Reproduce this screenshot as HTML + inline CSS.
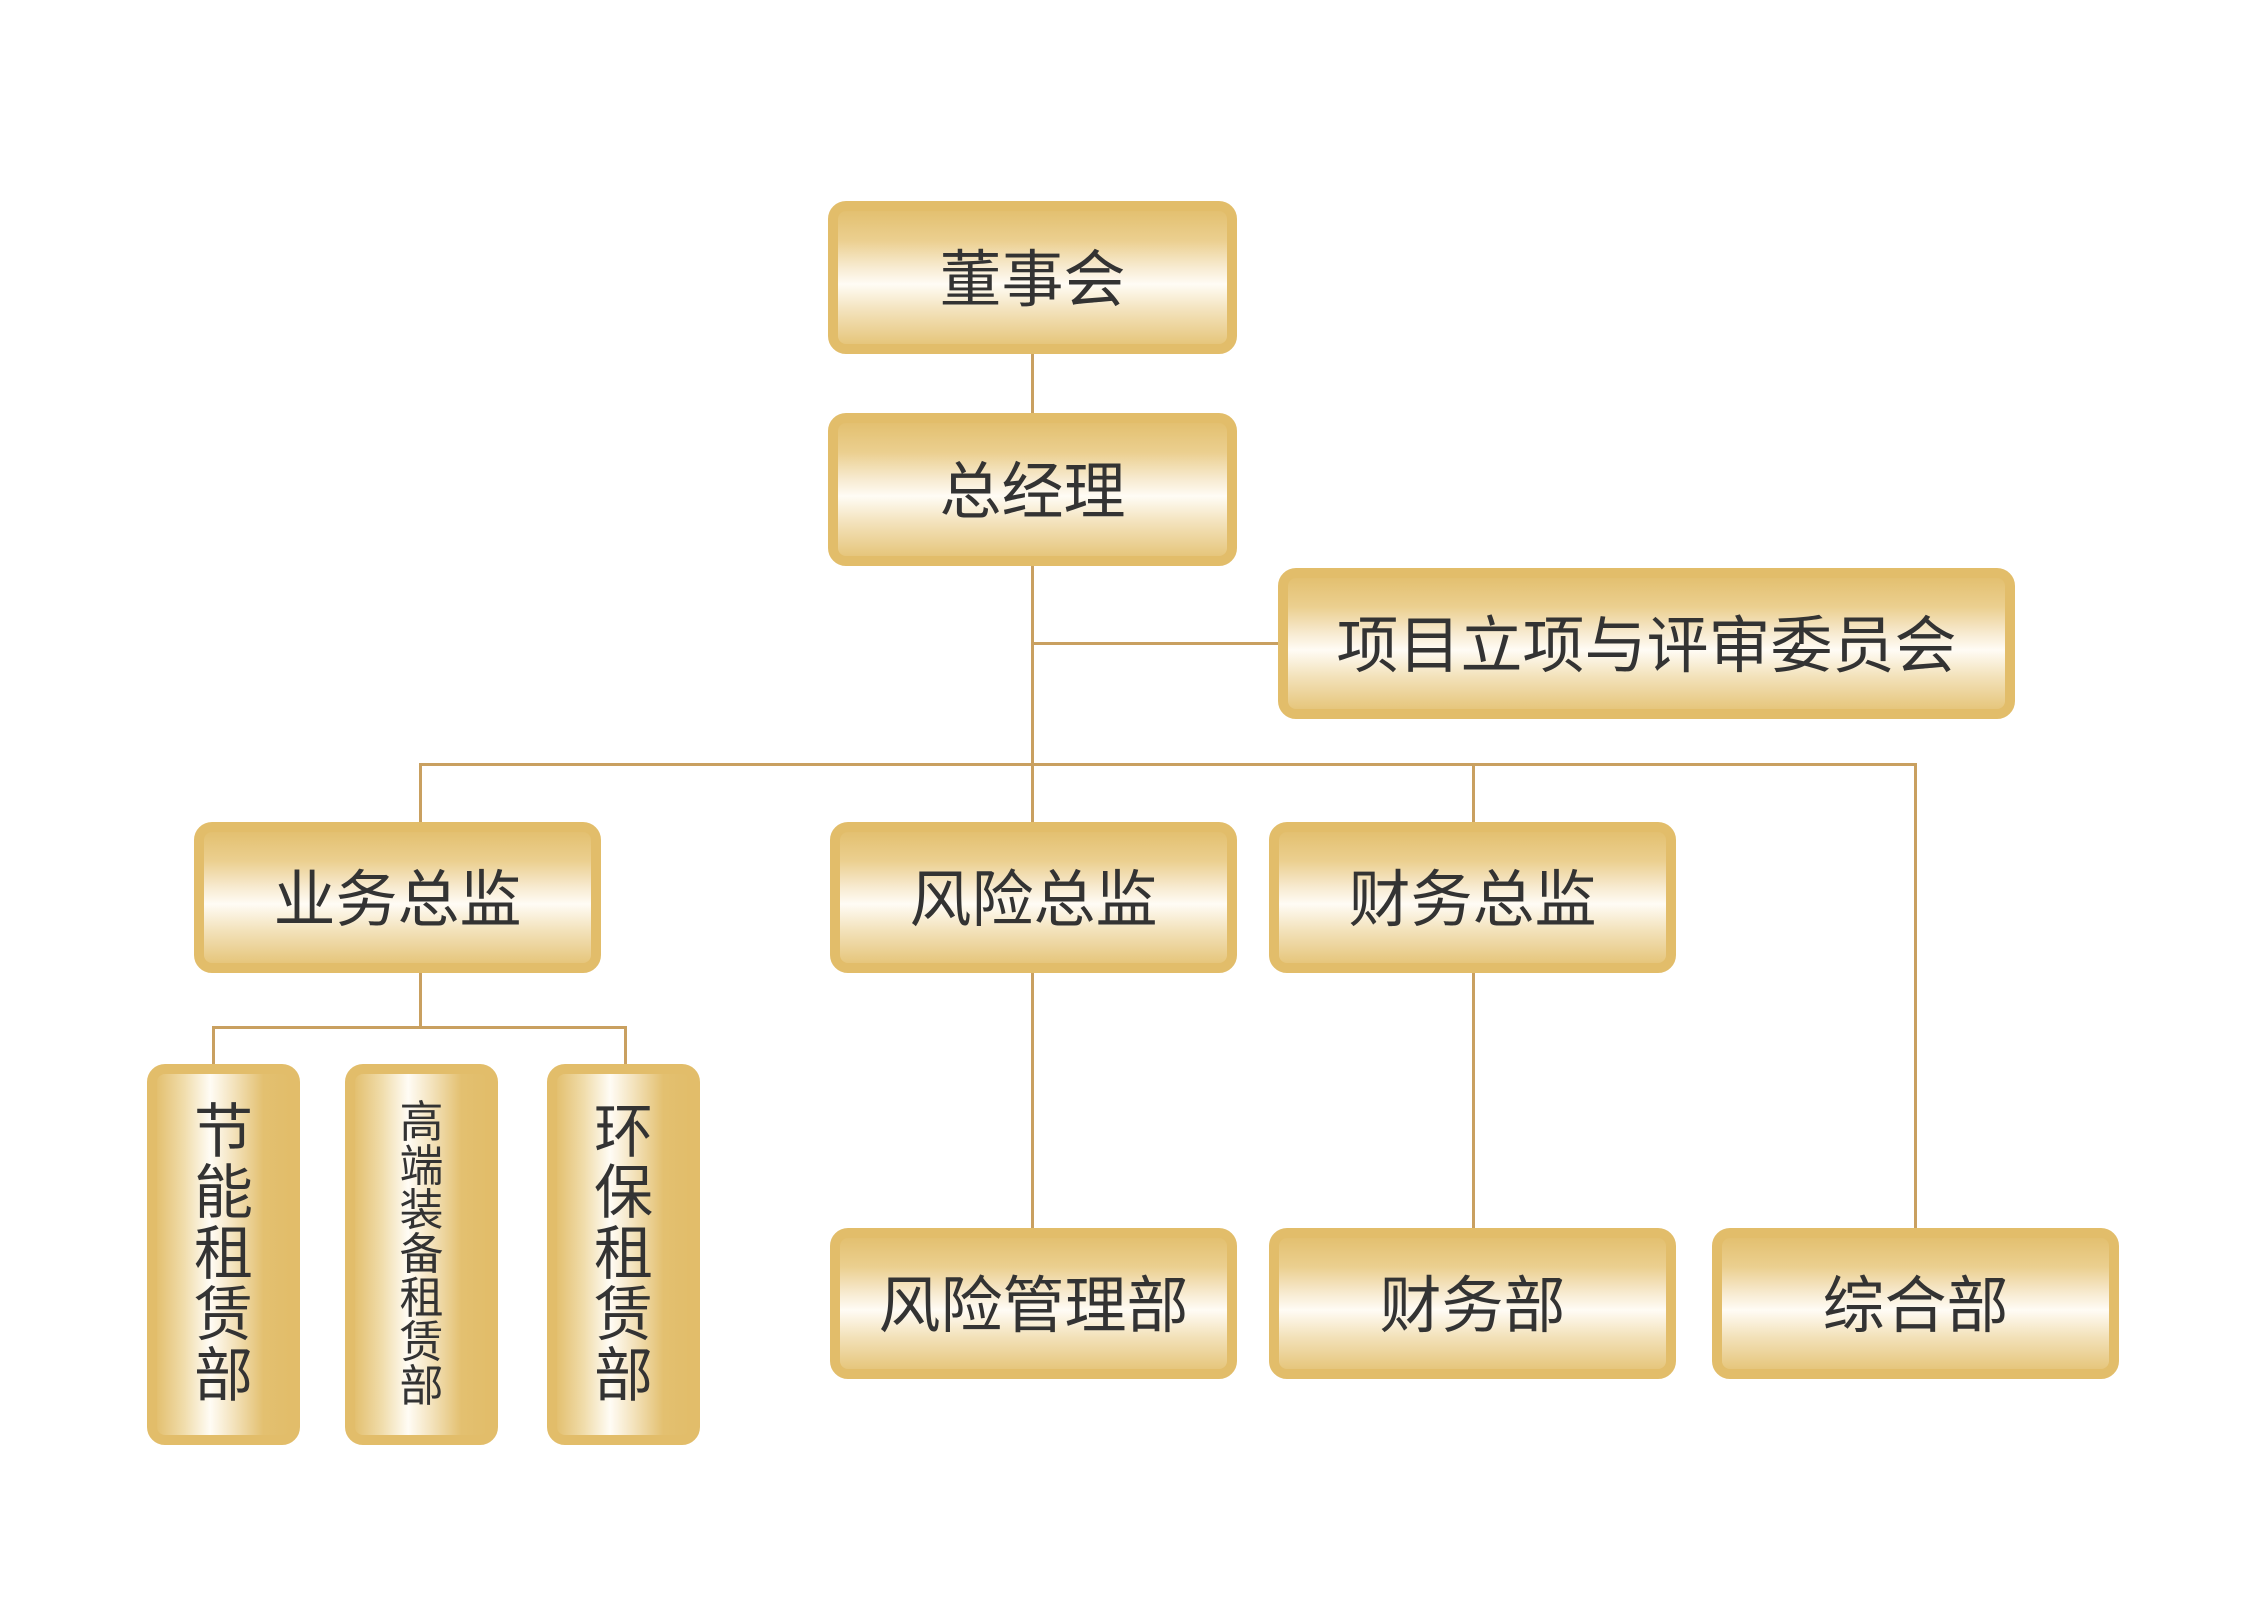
<!DOCTYPE html>
<html><head><meta charset="utf-8"><style>
body{margin:0;width:2259px;height:1609px;background:#fff;position:relative;overflow:hidden;font-family:"Liberation Sans","Noto Sans CJK SC",sans-serif;}
.b{position:absolute;box-sizing:border-box;border:10px solid #e2bd6a;border-radius:18px;background:linear-gradient(to bottom,#e3c070 0%,#ebcf8f 22%,#f7ead0 42%,#fffcf5 55%,#f3e2bb 75%,#e6c67c 100%);color:#333;display:flex;align-items:center;justify-content:center;font-size:62px;padding-bottom:8px;}
.v{position:absolute;box-sizing:border-box;border:10px solid #e2bd6a;border-radius:18px;background:linear-gradient(to right,#e3c070 0%,#f0dcaa 20%,#fffcf5 40%,#f3e2bb 58%,#e3c070 80%,#e2bd6a 100%);color:#333;font-size:59px;line-height:61px;text-align:center;display:flex;align-items:center;justify-content:center;}
.l{position:absolute;background:#c9a060;}
</style></head><body>
<div class="l" style="left:1031px;top:354px;width:3px;height:60px"></div>
<div class="l" style="left:1031px;top:566px;width:3px;height:663px"></div>
<div class="l" style="left:1031px;top:642px;width:248px;height:3px"></div>
<div class="l" style="left:419px;top:763px;width:1498px;height:3px"></div>
<div class="l" style="left:419px;top:763px;width:3px;height:60px"></div>
<div class="l" style="left:1472px;top:763px;width:3px;height:466px"></div>
<div class="l" style="left:1914px;top:763px;width:3px;height:466px"></div>
<div class="l" style="left:419px;top:972px;width:3px;height:56px"></div>
<div class="l" style="left:212px;top:1026px;width:415px;height:3px"></div>
<div class="l" style="left:212px;top:1026px;width:3px;height:40px"></div>
<div class="l" style="left:624px;top:1026px;width:3px;height:40px"></div>

<div class="b" style="left:828px;top:201px;width:409px;height:153px">董事会</div>
<div class="b" style="left:828px;top:413px;width:409px;height:153px">总经理</div>
<div class="b" style="left:1278px;top:568px;width:737px;height:151px">项目立项与评审委员会</div>
<div class="b" style="left:194px;top:822px;width:407px;height:151px">业务总监</div>
<div class="b" style="left:830px;top:822px;width:407px;height:151px">风险总监</div>
<div class="b" style="left:1269px;top:822px;width:407px;height:151px">财务总监</div>
<div class="b" style="left:830px;top:1228px;width:407px;height:151px">风险管理部</div>
<div class="b" style="left:1269px;top:1228px;width:407px;height:151px">财务部</div>
<div class="b" style="left:1712px;top:1228px;width:407px;height:151px">综合部</div>

<div class="v" style="left:147px;top:1064px;width:153px;height:381px"><div style="width:62px">节能租赁部</div></div>
<div class="v" style="left:345px;top:1064px;width:153px;height:381px;font-size:44px;line-height:44px"><div style="width:48px">高端装备租赁部</div></div>
<div class="v" style="left:547px;top:1064px;width:153px;height:381px"><div style="width:62px">环保租赁部</div></div>
</body></html>
